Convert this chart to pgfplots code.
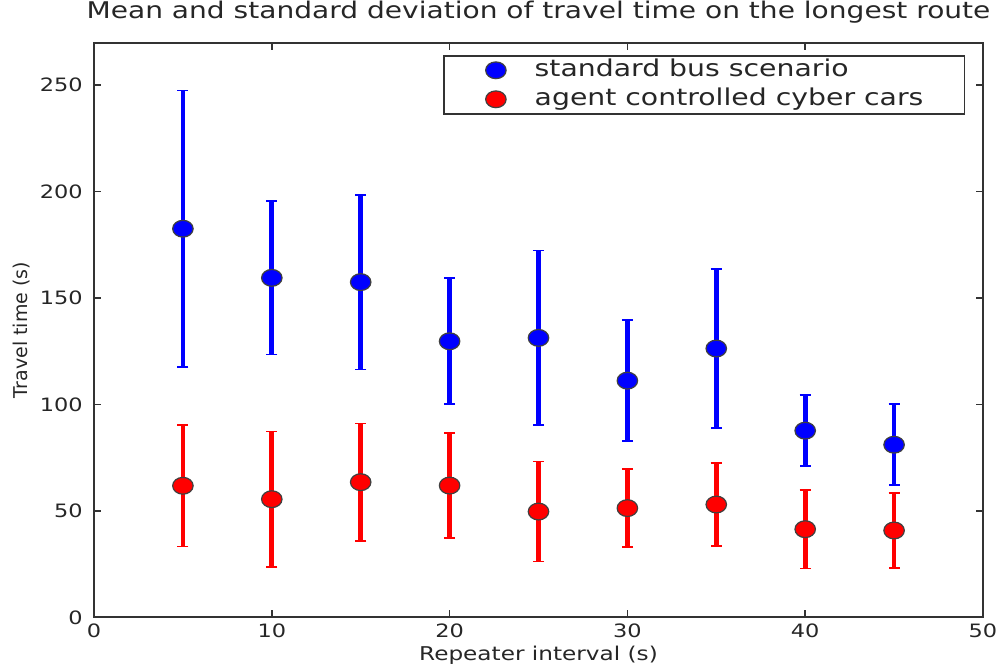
\documentclass[border=0pt]{standalone}
\usepackage{fontspec}
\setmainfont{DejaVu Sans}[FakeStretch=1.22]
\newfontfamily\plainfont{DejaVu Sans}
\usepackage{pgfplots}
\usepackage{pgfplotstable}
\pgfplotsset{compat=1.18}
\usetikzlibrary{calc}

% mean and standard deviation
\pgfplotstableread{
x  m     s
5  182.6 65.0
10 159.5 36.0
15 157.5 41.0
20 129.7 29.6
25 131.3 41.0
30 111.2 28.4
35 126.3 37.3
40 87.7  16.7
45 81.1  19.0
}\busdata
\pgfplotstableread{
x  m    s
5  61.8 28.6
10 55.5 31.8
15 63.5 27.6
20 61.9 24.7
25 49.7 23.5
30 51.3 18.3
35 53.0 19.4
40 41.4 18.4
45 40.8 17.6
}\cyberdata

\begin{document}
\begin{tikzpicture}
\begin{axis}[
  name=ax,
  width=444.5pt, height=287.3pt, scale only axis,
  xmin=0, xmax=50, ymin=0, ymax=270,
  xtick={0,10,...,50}, ytick={0,50,...,250},
  tick align=inside, major tick length=3.5pt,
  axis line style={black!80, line width=0.9pt},
  tick style={black!80, line width=0.8pt},
  /pgf/number format/assume math mode=true,
  ticklabel style={font=\fontsize{9.2}{11}\selectfont, text=black!85},
  xticklabel style={anchor=base, inner sep=0pt, yshift=-9.9pt},
  yticklabel style={anchor=east, inner sep=0pt, xshift=-5.5pt},
  title={Mean and standard deviation of travel time on the longest route},
  title style={font=\fontsize{11.5}{13}\selectfont, text=black!85, at={(0.5,1)}, anchor=base, yshift=6pt},
  xlabel={Repeater interval (s)},
  xlabel style={font=\fontsize{9.5}{11}\selectfont, text=black!85, at={(axis description cs:0.5,0)}, anchor=base, yshift=-21.5pt},
  ylabel={Travel time (s)},
  ylabel style={font=\plainfont\fontsize{9.5}{11}\selectfont, text=black!85, at={(axis description cs:-0.081,0.5)}, anchor=center, rotate=0},
  legend style={at={(0.98,0.9786)}, anchor=north east, draw=black!80, line width=0.8pt,
    font=\fontsize{11.6}{13}\selectfont, text=black!85,
    inner xsep=20.5pt, inner ysep=1.5pt, row sep=3pt,
    nodes={inner sep=0pt, text height=9pt, text depth=2.5pt},
    cells={anchor=west}, column sep=14pt},
  legend image code/.code={\draw[#1] plot coordinates {(0pt,0pt)}; \path (-5pt,0pt) (5pt,0pt);},
]
% error bars
\addplot[forget plot, only marks, mark=none,
  error bars/.cd, y dir=both, y explicit,
  error bar style={line width=2.3pt, blue},
  error mark=|, error mark options={line width=0.8pt, mark size=2.8pt, blue}]
  table[x=x, y=m, y error=s] {\busdata};
\addplot[only marks, mark=*, mark size=4.2pt,
  mark options={xscale=1.22, fill=blue, draw=black!75, line width=0.6pt}]
  table[x=x, y=m] {\busdata};
\addlegendentry{standard bus scenario}
\addplot[forget plot, only marks, mark=none,
  error bars/.cd, y dir=both, y explicit,
  error bar style={line width=2.3pt, red},
  error mark=|, error mark options={line width=0.8pt, mark size=2.8pt, red}]
  table[x=x, y=m, y error=s] {\cyberdata};
\addplot[only marks, mark=*, mark size=4.2pt,
  mark options={xscale=1.22, fill=red, draw=black!75, line width=0.6pt}]
  table[x=x, y=m] {\cyberdata};
\addlegendentry{agent controlled cyber cars}
\end{axis}
\pgfresetboundingbox
\path ($(ax.south west)+(-47pt,-23.85pt)$) rectangle ($(ax.north east)+(6.5pt,21.35pt)$);
\end{tikzpicture}
\end{document}
